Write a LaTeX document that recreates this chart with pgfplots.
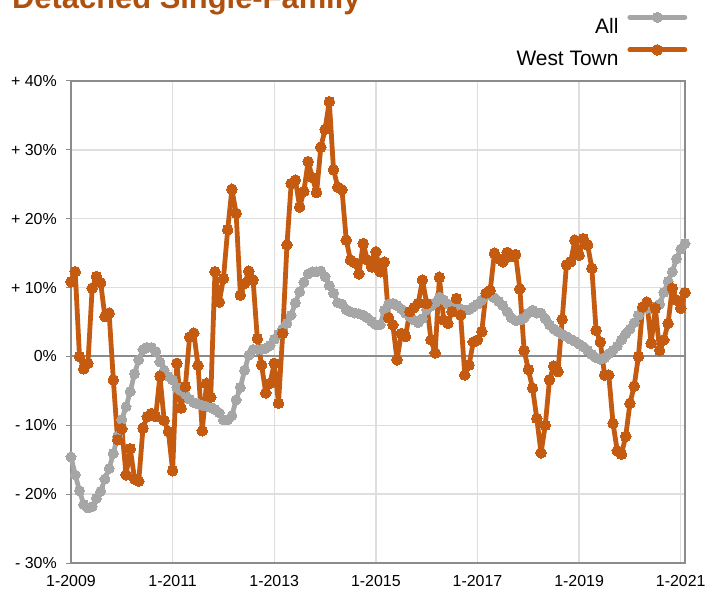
\documentclass[border=0pt]{standalone}
\usepackage{fontspec}
\setmainfont{Liberation Sans}
\usepackage{pgfplots}
\usepackage{pgfplotstable}
\pgfplotsset{compat=1.18}
\definecolor{wtorange}{HTML}{C55A11}
\definecolor{allgray}{HTML}{A6A6A6}
\definecolor{titleorange}{HTML}{B0500F}
\definecolor{gridgray}{HTML}{DEDEDE}
\definecolor{axisgray}{HTML}{8C8C8C}

\pgfplotstableread{
m all wt
0 -14.6 10.85
1 -17.2 12.3
2 -19.5 0
3 -21.5 -1.8
4 -22 -1
5 -21.8 9.9
6 -20.6 11.6
7 -19.6 10.7
8 -17.8 5.8
9 -16.3 6.3
10 -14.1 -3.4
11 -11.6 -12.1
12 -9.2 -10.5
13 -7.3 -17.2
14 -5.1 -13.4
15 -2.5 -17.8
16 -0.5 -18.1
17 1.0 -10.4
18 1.3 -8.75
19 1.3 -8.3
20 0.7 -8.75
21 -0.8 -2.85
22 -2.0 -9.3
23 -2.9 -10.9
24 -3.4 -16.6
25 -4.5 -1
26 -5.0 -7.5
27 -5.5 -4.4
28 -6.2 2.8
29 -6.7 3.4
30 -6.9 -1.3
31 -7.1 -10.8
32 -7.2 -3.9
33 -7.4 -5.9
34 -7.7 12.3
35 -8.2 7.9
36 -9.2 11.3
37 -9.2 18.4
38 -8.6 24.3
39 -6.3 20.8
40 -4.5 8.9
41 -2.0 10.6
42 0.2 12.4
43 1.0 11.1
44 1.0 2.6
45 1.0 -1.25
46 1.2 -5.3
47 1.6 -3.9
48 2.5 -1
49 3.2 -6.8
50 4.0 3.35
51 4.8 16.2
52 6.0 25.1
53 7.8 25.6
54 9.4 21.7
55 10.8 24
56 12.0 28.3
57 12.3 26
58 12.3 23.8
59 12.4 30.4
60 11.6 33
61 10.3 37
62 9.2 27.1
63 7.8 24.6
64 7.6 24.2
65 6.8 16.9
66 6.5 14
67 6.3 13.6
68 6.2 12
69 6.0 16.4
70 5.6 14
71 5.1 13
72 4.6 15.2
73 4.6 12.3
74 6.7 13.7
75 7.6 5.6
76 7.7 4.6
77 7.4 -0.5
78 6.9 3.35
79 6.3 2.9
80 5.8 6.5
81 5.3 7.1
82 4.9 7.7
83 5.5 11.1
84 6.8 7.7
85 7.3 2.4
86 7.8 0.5
87 8.6 11.5
88 8.2 5.3
89 7.6 4.8
90 7.2 6.5
91 7.0 8.4
92 6.9 6
93 6.7 -2.7
94 6.8 -1.25
95 7.2 2.1
96 7.6 2.4
97 8.2 3.6
98 8.9 9.2
99 8.9 9.6
100 8.5 15
101 8.0 14.2
102 7.4 13.75
103 6.5 15.1
104 5.6 14.5
105 5.2 14.8
106 5.3 9.8
107 5.6 0.9
108 6.3 -1.9
109 6.7 -4.6
110 6.3 -9
111 6.3 -14
112 5.5 -10
113 4.6 -3.4
114 4.0 -1.4
115 3.6 -2.2
116 3.2 5.4
117 2.9 13.3
118 2.5 13.75
119 2.2 16.9
120 1.8 14.7
121 1.4 17.1
122 0.9 16.2
123 0.3 12.8
124 -0.2 3.8
125 -0.4 2.1
126 -0.2 -2.7
127 0.4 -2.7
128 0.9 -9.7
129 1.5 -13.7
130 2.4 -14.2
131 3.3 -11.6
132 4.0 -6.8
133 4.9 -4.3
134 6.0 0
135 7.0 7.2
136 7.0 7.9
137 7.0 1.9
138 7.2 7
139 7.6 0.9
140 9.3 2.4
141 10.9 4.8
142 12.3 9.9
143 14.2 8.2
144 15.6 7
145 16.4 9.25
}\datatable

\begin{document}
\begin{tikzpicture}
\useasboundingbox (0,0) rectangle (706bp,590bp);
\clip (0,0) rectangle (706bp,590bp);
\node[anchor=base west, inner sep=0pt, font=\bfseries\fontsize{31}{31}\selectfont, text=titleorange] at (12bp,581bp) {Detached Single-Family};
\begin{axis}[
  at={(71bp,27bp)}, anchor=south west,
  scale only axis, width=614bp, height=482bp,
  xmin=0, xmax=145, ymin=-30, ymax=40,
  clip=false,
  xtick={0,24,...,144},
  xticklabels={1-2009,1-2011,1-2013,1-2015,1-2017,1-2019,1-2021},
  ytick={-30,-20,...,40},
  yticklabels={- 30\%,- 20\%,- 10\%,0\%,+ 10\%,+ 20\%,+ 30\%,+ 40\%},
  tick label style={font=\fontsize{16}{16}\selectfont},
  xticklabel style={anchor=north, inner sep=0pt, yshift=-7bp},
  yticklabel style={anchor=east, inner sep=0pt, xshift=-9bp},
  tick align=outside, tick pos=left,
  major tick length=5bp,
  xtick style={draw=none},
  ytick style={axisgray, line width=1bp},
  grid=major,
  major grid style={gridgray, line width=1.3bp},
  extra y ticks={0}, extra y tick labels={},
  extra y tick style={grid=major, major grid style={axisgray, line width=2bp}, ytick style={draw=none}},
  axis line style={axisgray, line width=1.3bp},
  legend cell align=right,
  legend plot pos=right,
  legend style={at={(1.004,1.143)}, anchor=north east, draw=none, fill=none,
    font=\fontsize{21}{21}\selectfont, row sep=9bp, column sep=8bp, inner sep=0pt,
    nodes={inner sep=1bp}},
  legend image code/.code={\draw[mark repeat=2, mark phase=2, #1] plot coordinates {(0bp,9bp) (27.5bp,9bp) (55bp,9bp)};},
]
\addplot[allgray, line width=4.8bp, line join=round, line cap=round, mark=*, mark size=5bp, mark options={fill=allgray, draw=allgray, line width=0pt}] table[x=m,y=all]{\datatable};
\addlegendentry{All}
\addplot[wtorange, line width=4.8bp, line join=round, line cap=round, mark=*, mark size=5.3bp, mark options={fill=wtorange, draw=wtorange, line width=0pt}] table[x=m,y=wt]{\datatable};
\addlegendentry{West Town}
\end{axis}
\end{tikzpicture}
\end{document}
